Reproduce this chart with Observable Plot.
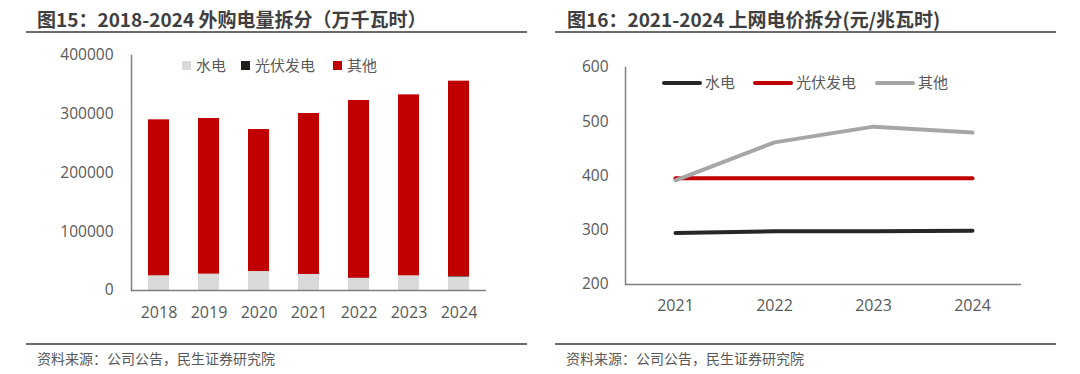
<!DOCTYPE html>
<html>
<head>
<meta charset="utf-8">
<script src="https://cdn.jsdelivr.net/npm/d3@7"></script>
<script src="https://cdn.jsdelivr.net/npm/@observablehq/plot@0.6"></script>
<style>
  html, body { margin: 0; padding: 0; background: #fff; }
  #root { position: relative; width: 1080px; height: 374px; overflow: hidden;
          font-family: "Open Sans", "Noto Sans CJK SC", sans-serif; }
  .title { position: absolute; top: 6px; font-family: "Noto Sans CJK SC", sans-serif; font-weight: 700;
           font-size: 19px; color: #3f3f3f; white-space: nowrap; line-height: 26px; }
  .hr { position: absolute; height: 0; border-top: 2.5px solid #6b6b6b; }
  .foot { position: absolute; top: 348px; font-family: "Noto Sans CJK SC", sans-serif; font-size: 14px;
          color: #595959; white-space: nowrap; line-height: 20px; }
  .chart { position: absolute; top: 40px; }
  .legend { position: absolute; font-family: "Noto Sans CJK SC", sans-serif; font-size: 15px; color: #595959;
            white-space: nowrap; line-height: 20px; }
  .legend .item { position: absolute; top: 0; }
  .legend .sw { display: inline-block; vertical-align: middle; }
  .chart svg g[aria-label="x-axis tick label"] text { font-size: 16px; }
</style>
</head>
<body>
<div id="root">
  <div class="title" style="left:37px">图15：2018-2024 外购电量拆分（万千瓦时）</div>
  <div class="hr" style="left:26px; width:501px; top:31px"></div>
  <div class="title" style="left:567px">图16：2021-2024 上网电价拆分(元/兆瓦时)</div>
  <div class="hr" style="left:555px; width:501px; top:31px"></div>

  <div id="left" class="chart" style="left:0px"></div>
  <div id="right" class="chart" style="left:540px"></div>

  <div id="legL" class="legend" style="top:55px"></div>
  <div id="legR" class="legend" style="top:72px"></div>

  <div class="hr" style="left:26px; width:501px; top:343px"></div>
  <div class="hr" style="left:555px; width:501px; top:343px"></div>
  <div class="foot" style="left:37px">资料来源：公司公告，民生证券研究院</div>
  <div class="foot" style="left:566px">资料来源：公司公告，民生证券研究院</div>
</div>
<script>
// ---- Data: Figure 15 (万千瓦时) ----
const years = ["2018", "2019", "2020", "2021", "2022", "2023", "2024"];
const barSeries = ["水电", "光伏发电", "其他"];
const barColors = ["#d9d9d9", "#1f1f1a", "#c00000"];
const hydroKwh = [25000, 27800, 32300, 27200, 20400, 25000, 22700];
const solarKwh = [0, 0, 0, 0, 500, 0, 1000];
const otherKwh = [265500, 265000, 241700, 274100, 302500, 308000, 332600];
const barYTicks = [0, 100000, 200000, 300000, 400000];

// ---- Data: Figure 16 (元/兆瓦时) ----
const priceYears = ["2021", "2022", "2023", "2024"];
const lineSeries = ["水电", "光伏发电", "其他"];
const lineColors = ["#262626", "#c00000", "#a6a6a6"];
const hydroPrice = [295, 298, 298, 299];
const solarPrice = [396, 396, 396, 396];
const otherPrice = [392, 462, 491, 480];
const lineYTicks = [200, 300, 400, 500, 600];

const font = '"Open Sans", "Noto Sans CJK SC", sans-serif';

const barData = [];
years.forEach((y, i) => {
  barData.push({year: y, series: "水电", value: hydroKwh[i]});
  barData.push({year: y, series: "光伏发电", value: solarKwh[i]});
  barData.push({year: y, series: "其他", value: otherKwh[i]});
});

const left = Plot.plot({
  width: 540, height: 300,
  marginLeft: 131, marginRight: 54, marginTop: 15, marginBottom: 50,
  style: {fontFamily: font, fontSize: "15.5px", color: "#595959", background: "transparent", overflow: "visible"},
  x: {type: "band", domain: years, paddingInner: 0.59, paddingOuter: 0.295, label: null, tickSize: 0, tickPadding: 16},
  y: {domain: [0, 400000], ticks: barYTicks, tickFormat: d3.format("d"), label: null, tickSize: 0, tickPadding: 18},
  color: {domain: barSeries, range: barColors},
  marks: [
    Plot.barY(barData, {x: "year", y: "value", fill: "series", order: barSeries}),
    Plot.frame({anchor: "left", stroke: "#7f7f7f", strokeWidth: 1.5}),
    Plot.ruleY([0], {stroke: "#7f7f7f", strokeWidth: 1.5})
  ]
});
document.getElementById("left").appendChild(left);

const lineData = [];
priceYears.forEach((y, i) => {
  lineData.push({year: y, series: "水电", value: hydroPrice[i]});
  lineData.push({year: y, series: "光伏发电", value: solarPrice[i]});
  lineData.push({year: y, series: "其他", value: otherPrice[i]});
});

const right = Plot.plot({
  width: 540, height: 300,
  marginLeft: 85, marginRight: 59, marginTop: 27, marginBottom: 56,
  style: {fontFamily: font, fontSize: "15.5px", color: "#595959", background: "transparent", overflow: "visible"},
  x: {type: "point", domain: priceYears, padding: 0.5, label: null, tickSize: 0, tickPadding: 15},
  y: {domain: [200, 600], ticks: lineYTicks, tickFormat: d3.format("d"), label: null, tickSize: 0, tickPadding: 17},
  color: {domain: lineSeries, range: lineColors},
  marks: [
    Plot.lineY(lineData, {x: "year", y: "value", stroke: "series", z: "series", strokeWidth: 4, strokeLinecap: "round"}),
    Plot.frame({anchor: "left", stroke: "#7f7f7f", strokeWidth: 1.5}),
    Plot.ruleY([200], {stroke: "#7f7f7f", strokeWidth: 1.5})
  ]
});
document.getElementById("right").appendChild(right);

// Legends
const legL = document.getElementById("legL");
const lPos = [182, 241, 333];
barSeries.forEach((s, i) => {
  const it = document.createElement("div");
  it.className = "item";
  it.style.left = lPos[i] + "px";
  it.innerHTML = `<span class="sw" style="width:9px;height:9px;background:${barColors[i]};margin-right:5px;position:relative;top:-1px"></span>${s}`;
  legL.appendChild(it);
});
const legR = document.getElementById("legR");
const rPos = [662, 753, 875];
lineSeries.forEach((s, i) => {
  const it = document.createElement("div");
  it.className = "item";
  it.style.left = rPos[i] + "px";
  it.innerHTML = `<span class="sw" style="width:40px;height:4px;border-radius:2px;background:${lineColors[i]};margin-right:3px;position:relative;top:-1px"></span>${s}`;
  legR.appendChild(it);
});
</script>
</body>
</html>
